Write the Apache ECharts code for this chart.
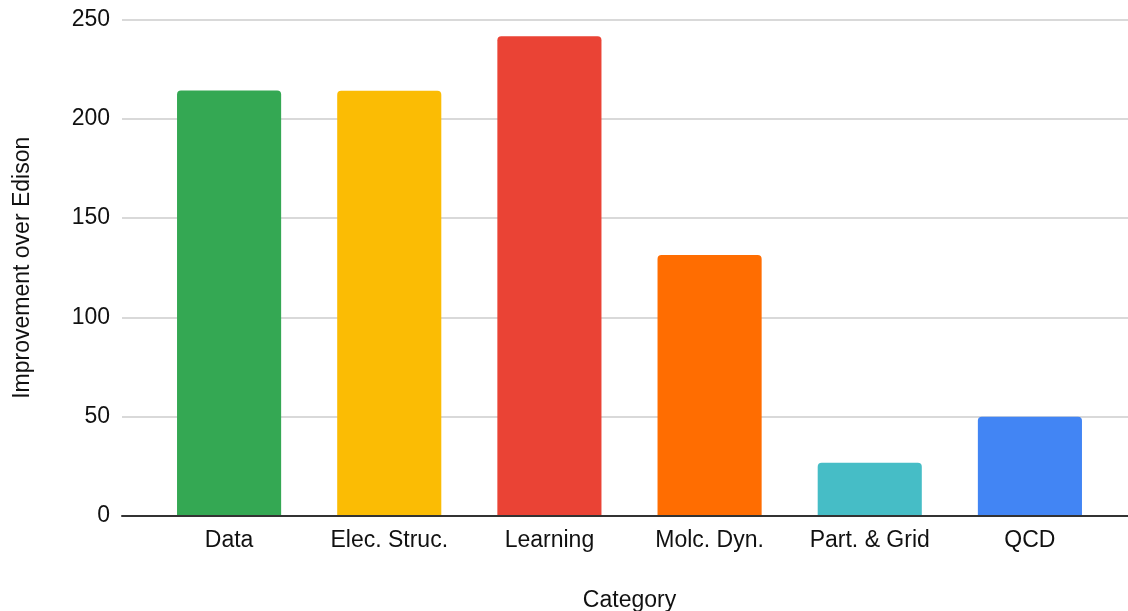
<!DOCTYPE html>
<html>
<head>
<meta charset="utf-8">
<script src="https://cdn.jsdelivr.net/npm/echarts@6/dist/echarts.min.js"></script>
<style>
html,body{margin:0;padding:0;background:#fff;}
#chart{width:1128px;height:611px;}
</style>
</head>
<body>
<div id="chart"></div>
<script>
const categories = ["Data", "Elec. Struc.", "Learning", "Molc. Dyn.", "Part. & Grid", "QCD"];
const values = [214.2, 214.1, 241.6, 131.4, 26.8, 50.0];
const barColors = ["#34A853", "#FBBC04", "#EA4335", "#FF6D01", "#46BDC6", "#4285F4"];
const yTicks = { min: 0, max: 250, interval: 50 };
const xTitle = "Category";
const yTitle = "Improvement over Edison";

const FONT = '"Liberation Sans", Arial, sans-serif';
const chart = echarts.init(document.getElementById('chart'), null, { renderer: 'canvas' });
chart.setOption({
  animation: false,
  backgroundColor: '#ffffff',
  textStyle: { fontFamily: FONT },
  grid: [
    { left: 122, right: 0, top: 19.5, bottom: 95, containLabel: false, outerBoundsMode: 'none' },
    { left: 149, right: 18, top: 19.5, bottom: 95, containLabel: false, outerBoundsMode: 'none' }
  ],
  xAxis: [
    {
      gridIndex: 0, type: 'value', min: 0, max: 1, z: 10,
      axisLine: { show: true, lineStyle: { color: '#333333', width: 2 } },
      axisTick: { show: false }, axisLabel: { show: false }, splitLine: { show: false }
    },
    {
      gridIndex: 1, type: 'category', data: categories,
      axisLine: { show: false }, axisTick: { show: false },
      axisLabel: { color: '#111111', fontSize: 23, margin: 13, fontFamily: FONT },
      name: xTitle, nameLocation: 'middle', nameGap: 73,
      nameTextStyle: { color: '#111111', fontSize: 23, fontFamily: FONT }
    }
  ],
  yAxis: [
    {
      gridIndex: 0, type: 'value', min: yTicks.min, max: yTicks.max, interval: yTicks.interval,
      axisLine: { show: false }, axisTick: { show: false },
      axisLabel: { color: '#111111', fontSize: 23, margin: 12, fontFamily: FONT },
      splitLine: { show: true, lineStyle: { color: '#cccccc', width: 1.5 } },
      name: yTitle, nameLocation: 'middle', nameGap: 88,
      nameTextStyle: { color: '#111111', fontSize: 23, fontFamily: FONT }
    },
    {
      gridIndex: 1, type: 'value', min: yTicks.min, max: yTicks.max, interval: yTicks.interval,
      show: false, splitLine: { show: false }
    }
  ],
  series: [{
    type: 'bar',
    xAxisIndex: 1, yAxisIndex: 1,
    barWidth: '65%',
    data: values.map((v, i) => ({ value: v, itemStyle: { color: barColors[i], borderRadius: [4, 4, 0, 0] } }))
  }]
});
</script>
</body>
</html>
